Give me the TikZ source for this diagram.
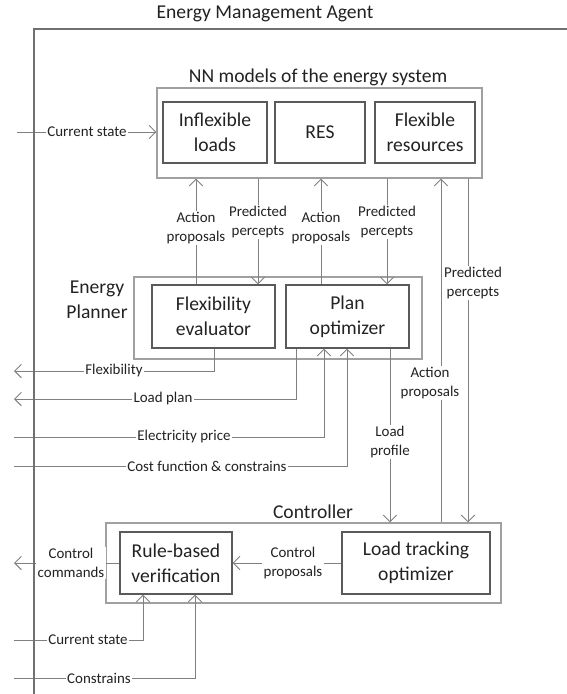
\documentclass[tikz,border=0pt]{standalone}
\usepackage{fontspec}
\setmainfont{Carlito}
\usetikzlibrary{arrows.meta,fit}
\definecolor{outerc}{HTML}{A0A0A0}
\definecolor{innerc}{HTML}{5A5A5A}
\definecolor{linec}{HTML}{808080}
\definecolor{framec}{HTML}{707070}
\definecolor{txtc}{HTML}{222222}
\begin{document}
\begin{tikzpicture}[x=0.75pt,y=-0.75pt,
  every node/.style={text=txtc},
  outerbox/.style={draw=outerc,line width=0.8pt,inner sep=0pt},
  innerbox/.style={draw=innerc,line width=0.8pt,inner sep=0pt},
  boxtext/.style={align=center,font=\fontsize{14.7}{18.5}\selectfont},
  bigtitle/.style={font=\fontsize{14.7}{18.5}\selectfont,align=center},
  lbl/.style={fill=white,inner sep=1pt,align=center,font=\fontsize{11.2}{14.2}\selectfont},
  conn/.style={draw=linec,line width=0.75pt},
  arr/.style={conn,-{Straight Barb[length=5pt,width=10pt,line width=0.75pt]}}
]
\useasboundingbox (0,0) rectangle (567,694);

\node[bigtitle] (agent) at (265,14) {Energy Management Agent};

% NN models
\node[outerbox,fit={(157,88) (482,178)}] (nn) {};
\node[bigtitle] (nntitle) at (318,77) {NN models of the energy system};
\node[innerbox,fit={(163,102) (267,163)}] (il) {};
\node[boxtext] (iltext) at (il.center) {Inflexible\\loads};
\node[innerbox,fit={(275,102) (365,163)}] (res) {};
\node[boxtext] (restext) at (res.center) {RES};
\node[innerbox,fit={(375,102) (475,163)}] (fr) {};
\node[boxtext] (frtext) at (fr.center) {Flexible\\resources};

% Energy planner
\node[outerbox,fit={(134,277) (422,359)}] (ep) {};
\node[bigtitle] (eptitle) at (97,300) {Energy\\Planner};
\node[innerbox,fit={(152,285) (275,348)}] (fe) {};
\node[boxtext] (fetext) at (fe.center) {Flexibility\\evaluator};
\node[innerbox,fit={(286,285) (409,348)}] (po) {};
\node[boxtext] (potext) at (po.center) {Plan\\optimizer};

% Controller
\node[outerbox,fit={(106,523) (501,603)}] (ctl) {};
\node[bigtitle] (ctltitle) at (313,512) {Controller};
\node[innerbox,fit={(120,532) (232,594)}] (rbv) {};
\node[boxtext] (rbvtext) at (rbv.center) {Rule-based\\verification};
\node[innerbox,fit={(342,532) (490,594)}] (lto) {};
\node[boxtext] (ltotext) at (lto.center) {Load tracking\\optimizer};

% x positions of vertical connectors
\coordinate (xap1) at (196,0);
\coordinate (xpp1) at (258,0);
\coordinate (xap2) at (321,0);
\coordinate (xpp2) at (387,0);
\coordinate (xap3) at (441,0);
\coordinate (xpp3) at (468,0);
\coordinate (xlprof) at (390,0);
\coordinate (xflex) at (214,0);
\coordinate (xlplan) at (296,0);
\coordinate (xeprice) at (324,0);
\coordinate (xcost) at (347,0);
\coordinate (xcs) at (143,0);
\coordinate (xcons) at (195,0);

% free ends on the left
\coordinate (csIn) at (17,132);
\coordinate (flexOut) at (14,371);
\coordinate (lplanOut) at (14,399);
\coordinate (epriceIn) at (14,437);
\coordinate (costIn) at (14,466);
\coordinate (cmdOut) at (14,563);
\coordinate (cs2In) at (14,640);
\coordinate (consIn) at (14,678);

% connectors
\draw[arr] (csIn) -- (nn.west |- csIn);
\draw[arr] (fe.north -| xap1) -- (nn.south -| xap1);
\draw[arr] (nn.south -| xpp1) -- (fe.north -| xpp1);
\draw[arr] (po.north -| xap2) -- (nn.south -| xap2);
\draw[arr] (nn.south -| xpp2) -- (po.north -| xpp2);
\draw[arr] (ctl.north -| xap3) -- (nn.south -| xap3);
\draw[arr] (nn.south -| xpp3) -- (ctl.north -| xpp3);
\draw[arr] (po.south -| xlprof) -- (ctl.north -| xlprof);
\draw[arr] (fe.south -| xflex) |- (flexOut);
\draw[arr] (po.south -| xlplan) |- (lplanOut);
\draw[arr] (epriceIn) -| (po.south -| xeprice);
\draw[arr] (costIn) -| (po.south -| xcost);
\draw[arr] (lto.west) -- (rbv.east);
\draw[arr] (rbv.west) -- (cmdOut);
\draw[arr] (cs2In) -| (rbv.south -| xcs);
\draw[arr] (consIn) -| (rbv.south -| xcons);

% labels
\node[lbl] (l1) at (87,132) {Current state};
\node[lbl] (l2) at (196,228) {Action\\proposals};
\node[lbl] (l3) at (258,222) {Predicted\\percepts};
\node[lbl] (l4) at (321,228) {Action\\proposals};
\node[lbl] (l5) at (387,222) {Predicted\\percepts};
\node[lbl] (l6) at (430,383) {Action\\proposals};
\node[lbl] (l7) at (473,283) {Predicted\\percepts};
\node[lbl] (l8) at (390,442) {Load\\profile};
\node[lbl] (l9) at (114,371) {Flexibility};
\node[lbl] (l10) at (163,399) {Load plan};
\node[lbl] (l11) at (184,437) {Electricity price};
\node[lbl] (l12) at (207,466) {Cost function \& constrains};
\node[lbl] (l13) at (293,563) {Control\\proposals};
\node[lbl] (l14) at (71,563) {Control\\commands};
\node[lbl] (l15) at (88,640) {Current state};
\node[lbl] (l16) at (99,678) {Constrains};

% frame of the agent (drawn last, on top)
\coordinate (frB) at (34,694);
\coordinate (frC) at (34,29);
\coordinate (frR) at (567,29);
\draw[draw=framec,line width=0.8pt] (frB) -- (frC) -- (frR);
\end{tikzpicture}
\end{document}
